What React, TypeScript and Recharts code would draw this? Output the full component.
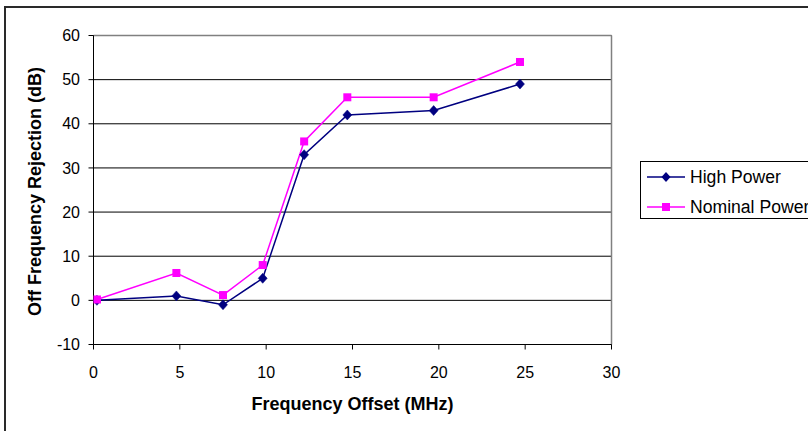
import React from "react";
import {
  LineChart,
  Line,
  XAxis,
  YAxis,
  CartesianGrid,
  Legend,
  ReferenceLine,
  Label,
} from "recharts";

const freqOffset = [0.2, 4.8, 7.5, 9.8, 12.2, 14.7, 19.7, 24.7];
const highPower = [0, 1, -1, 5, 33, 42, 43, 49];
const nominalPower = [0.2, 6.2, 1.2, 8, 36, 46, 46, 54];
const xTicks = [0, 5, 10, 15, 20, 25, 30];
const yTicks = [-10, 0, 10, 20, 30, 40, 50, 60];

const data = freqOffset.map((f, i) => ({
  f,
  high: highPower[i],
  nominal: nominalPower[i],
}));

const FONT = "'Liberation Sans', Arial, sans-serif";
const NAVY = "#000080";
const MAGENTA = "#FF00FF";

const Diamond = (props: any) => {
  const { cx, cy } = props;
  if (cx == null || cy == null) return null;
  return (
    <polygon
      points={`${cx},${cy - 5} ${cx + 4.5},${cy} ${cx},${cy + 5} ${cx - 4.5},${cy}`}
      fill={NAVY}
      stroke={NAVY}
      strokeWidth={0.5}
    />
  );
};

const Square = (props: any) => {
  const { cx, cy } = props;
  if (cx == null || cy == null) return null;
  return <rect x={cx - 4} y={cy - 4} width={8} height={8} fill={MAGENTA} />;
};

const legendItems = [
  { name: "High Power", color: NAVY, marker: "diamond" },
  { name: "Nominal Power", color: MAGENTA, marker: "square" },
];

const renderLegend = () => (
  <div
    style={{
      position: "relative",
      width: 220,
      height: 58,
      boxSizing: "border-box",
      border: "1px solid #000",
      background: "#fff",
      fontFamily: FONT,
      fontSize: 17.6,
      color: "#000",
    }}
  >
    {legendItems.map((it, i) => (
      <div
        key={it.name}
        style={{
          position: "absolute",
          left: 5,
          top: 5 + i * 30,
          height: 20,
          display: "flex",
          alignItems: "center",
          whiteSpace: "nowrap",
        }}
      >
        <svg width={40} height={20} style={{ display: "block" }}>
          <line x1={1} y1={10} x2={39} y2={10} stroke={it.color} strokeWidth={1.5} />
          {it.marker === "diamond" ? (
            <polygon points="20,5 24.5,10 20,15 15.5,10" fill={it.color} />
          ) : (
            <rect x={16} y={6} width={8} height={8} fill={it.color} />
          )}
        </svg>
        <span style={{ marginLeft: 4 }}>{it.name}</span>
      </div>
    ))}
  </div>
);

const XTitle = (props: any) => {
  const vb = props.viewBox || {};
  return (
    <text
      x={vb.x + vb.width / 2}
      y={404}
      dy="0.355em"
      textAnchor="middle"
      fontFamily={FONT}
      fontSize={18}
      fontWeight="bold"
      fill="#000"
    >
      Frequency Offset (MHz)
    </text>
  );
};

const YTitle = () => {
  const cy = 191.5;
  const cx = 35;
  return (
    <text
      x={cx}
      y={cy}
      dy="0.355em"
      textAnchor="middle"
      transform={`rotate(-90, ${cx}, ${cy})`}
      fontFamily={FONT}
      fontSize={18}
      fontWeight="bold"
      fill="#000"
    >
      Off Frequency Rejection (dB)
    </text>
  );
};

export default function App() {
  return (
    <div
      style={{
        position: "fixed",
        left: 0,
        top: 0,
        width: 808,
        height: 431,
        overflow: "hidden",
        background: "#fff",
      }}
    >
      <div
        style={{
          position: "absolute",
          left: 4,
          top: 6,
          width: 1000,
          height: 1000,
          border: "2px solid #2a2a2a",
          boxSizing: "border-box",
        }}
      />
      <div style={{ position: "absolute", left: 0, top: 0 }}>
        <LineChart
          width={808}
          height={431}
          data={data}
          margin={{ top: 35.5, right: 196.5, bottom: 0, left: 0 }}
        >
          <CartesianGrid vertical={false} horizontal stroke="#000" strokeWidth={1} />
          <ReferenceLine y={60} stroke="#808080" strokeWidth={1.5} />
          <ReferenceLine x={30} stroke="#808080" strokeWidth={1.5} />
          <XAxis
            dataKey="f"
            type="number"
            domain={[0, 30]}
            ticks={xTicks}
            interval={0}
            height={86.5}
            stroke="#000"
            tickSize={5}
            tickMargin={17.5}
            tick={{ fontFamily: FONT, fontSize: 16, fill: "#000" }}
            tickLine={{ stroke: "#000" }}
            allowDataOverflow
          >
            <Label content={<XTitle />} />
          </XAxis>
          <YAxis
            type="number"
            domain={[-10, 60]}
            ticks={yTicks}
            interval={0}
            width={93.5}
            stroke="#000"
            tickSize={5}
            tickMargin={8.5}
            tick={{ fontFamily: FONT, fontSize: 16, fill: "#000" }}
            tickLine={{ stroke: "#000" }}
            allowDataOverflow
          >
            <Label content={<YTitle />} />
          </YAxis>
          <Legend
            layout="vertical"
            align="center"
            verticalAlign="middle"
            content={renderLegend}
            wrapperStyle={{
              position: "absolute",
              left: 640,
              top: 161,
              right: "auto",
              bottom: "auto",
              width: 220,
            }}
          />
          <Line
            type="linear"
            dataKey="high"
            name="High Power"
            stroke={NAVY}
            strokeWidth={1.5}
            dot={<Diamond />}
            activeDot={false}
            isAnimationActive={false}
          />
          <Line
            type="linear"
            dataKey="nominal"
            name="Nominal Power"
            stroke={MAGENTA}
            strokeWidth={1.5}
            dot={<Square />}
            activeDot={false}
            isAnimationActive={false}
          />
        </LineChart>
      </div>
    </div>
  );
}
